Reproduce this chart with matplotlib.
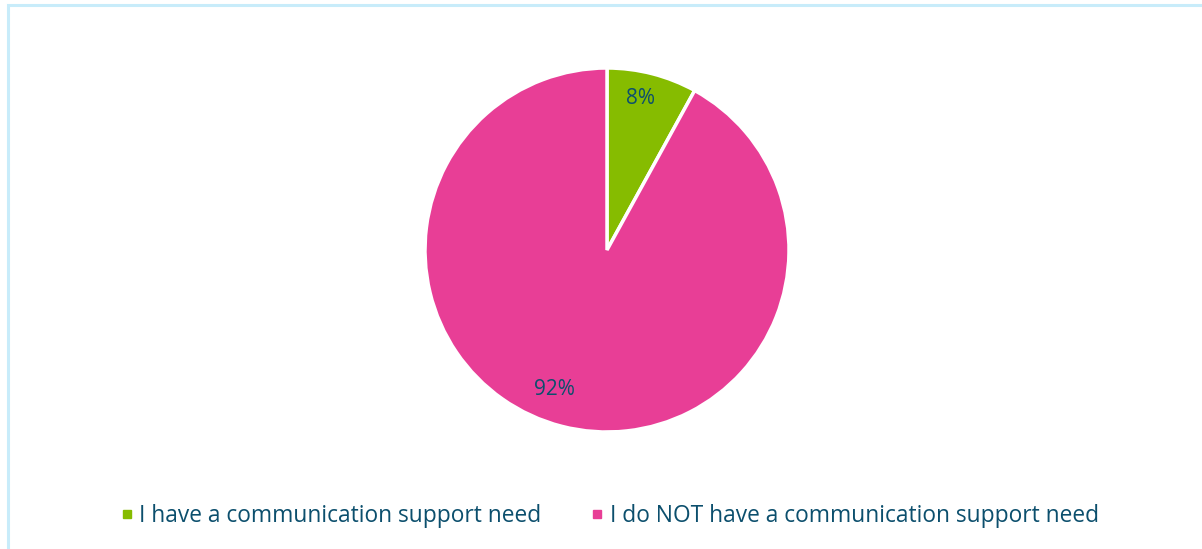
import matplotlib
matplotlib.use("Agg")
import matplotlib.pyplot as plt
from matplotlib.patches import Rectangle
from matplotlib.lines import Line2D
import numpy as np

categories = ["I have a communication support need",
              "I do NOT have a communication support need"]
shares = [8, 92]
colors = ["#86bc00", "#e83e96"]
text_color = "#0c4f6d"

W, H = 1202, 549
fig = plt.figure(figsize=(W / 100, H / 100), dpi=100)
fig.patch.set_facecolor("white")

# light blue frame around the chart area
fig.patches.append(Rectangle((8 / W, -0.05), 1.1, 1 - 5 / H + 0.05,
                             transform=fig.transFigure, fill=False,
                             edgecolor="#c8ecfa", linewidth=2.2))

cx, cy, r = 607, 250, 182
ax = fig.add_axes([(cx - r) / W, 1 - (cy + r) / H, 2 * r / W, 2 * r / H])

wedges, _ = ax.pie(shares, colors=colors, startangle=90, counterclock=False,
                   radius=1, wedgeprops=dict(edgecolor="white", linewidth=2.5))
ax.set_xlim(-1, 1)
ax.set_ylim(-1, 1)
ax.set_aspect("equal")
ax.axis("off")

# data label placement (radius fraction, angle in degrees)
label_pos = [(0.855, 77.5), (0.82, -110.5)]
for v, (rr, ang) in zip(shares, label_pos):
    a = np.deg2rad(ang)
    ax.text(rr * np.cos(a), rr * np.sin(a), f"{v}%", ha="center", va="center",
            fontsize=15, color=text_color, family="Open Sans")

handles = [Line2D([], [], marker="s", linestyle="none", markersize=5.8,
                  markerfacecolor=c, markeredgecolor=c) for c in colors]
leg = fig.legend(handles, categories, loc="center left", ncol=2,
                 bbox_to_anchor=(95 / W, 1 - 516 / H), frameon=False,
                 handletextpad=0.05, columnspacing=1.95, handlelength=1.0,
                 prop=dict(family="Open Sans", size=16.4))
for t in leg.get_texts():
    t.set_color(text_color)

fig.savefig("out.png", dpi=100)
